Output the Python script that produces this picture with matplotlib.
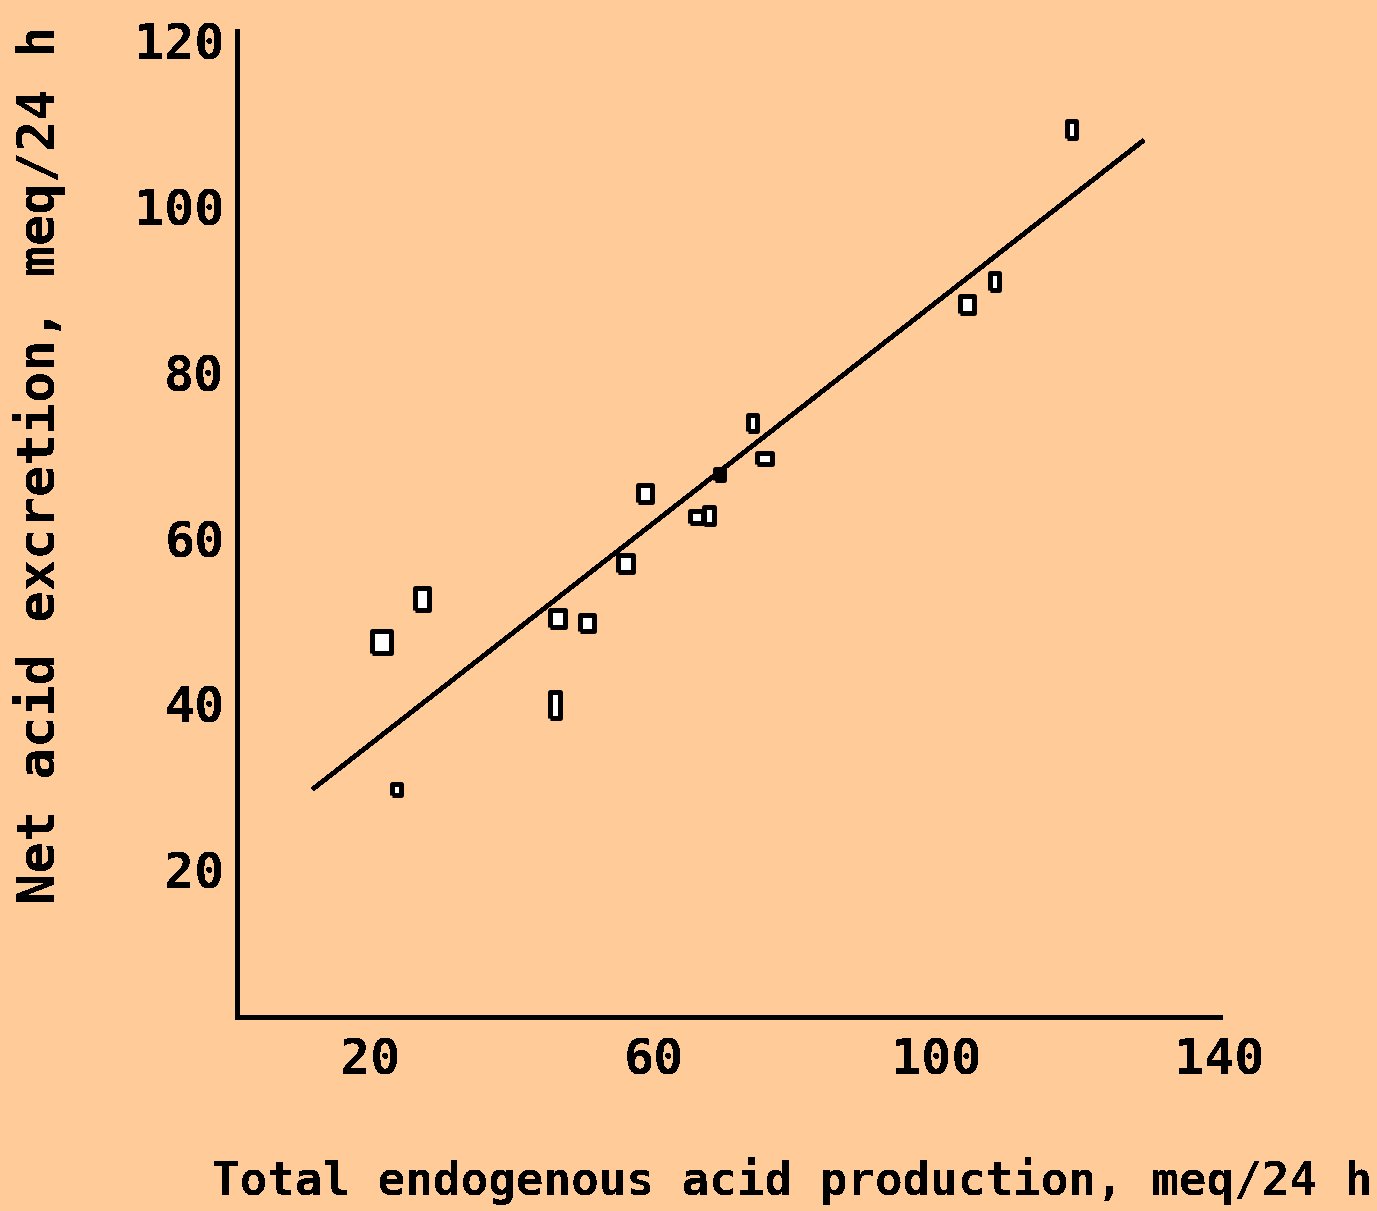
import matplotlib
matplotlib.use("Agg")
import matplotlib.pyplot as plt

# values
acid_production = [21.5, 27.3, 23.5, 46.3, 50.5, 46.0, 55.9, 58.7, 66.0, 67.8,
                   69.2, 73.9, 75.6, 104.3, 108.0, 118.9]
acid_excretion = [47.5, 52.6, 29.7, 50.4, 49.7, 39.9, 57.0, 65.4, 62.5, 62.8,
                  67.7, 73.9, 69.7, 88.3, 91.0, 109.4]
filled = [False, False, False, False, False, False, False, False, False, False,
          True, False, False, False, False, False]

fit_x = [11.8, 129.2]
fit_y = [29.7, 108.0]

x_ticks = [20, 60, 100, 140]
y_ticks = [20, 40, 60, 80, 100, 120]

# marker boxes (outer width, height in pixels), purely style
box_w = [24, 19, 14, 20, 19, 15, 20, 19, 18, 15, 14, 14, 20, 19, 14, 14]
box_h = [27, 28, 16, 22, 21, 32, 22, 22, 17, 22, 16, 21, 16, 22, 22, 22]

bg = "#FFCC99"
plt.rcParams["text.antialiased"] = False
plt.rcParams["font.family"] = ["DejaVu Sans Mono"]
plt.rcParams["font.weight"] = "bold"

fig = plt.figure(figsize=(13.77, 12.11), dpi=100, facecolor=bg)
ax = fig.add_axes([237 / 1377, 194 / 1211, 983 / 1377, 986 / 1211])
ax.set_facecolor(bg)

ax.plot(fit_x, fit_y, color="black", lw=2.6, antialiased=False, zorder=2,
        solid_capstyle="butt")

border = 5
for x, y, w, h, f in zip(acid_production, acid_excretion, box_w, box_h, filled):
    iw, ih = w - border, h - border
    verts = [(-iw / 2, -ih / 2), (iw / 2, -ih / 2), (iw / 2, ih / 2),
             (-iw / 2, ih / 2), (-iw / 2, -ih / 2)]
    ax.plot([x], [y], linestyle="none", marker=verts,
            markersize=max(iw, ih) * 0.72, markeredgewidth=border * 0.72,
            markerfacecolor="black" if f else "white", markeredgecolor="black",
            antialiased=False, zorder=3)

ax.set_xlim(1.1, 139.6)
ax.set_ylim(2.2, 121.2)
ax.set_xticks(x_ticks)
ax.set_yticks(y_ticks)
ax.tick_params(length=0, labelsize=36)
ax.tick_params(axis="x", pad=14)
ax.tick_params(axis="y", pad=9)

for s in ["top", "right"]:
    ax.spines[s].set_visible(False)
for s in ["left", "bottom"]:
    ax.spines[s].set_linewidth(3.6)
    ax.spines[s].set_antialiased(False)

fig.text(792 / 1377, 1 - 1181 / 1211, "Total endogenous acid production, meq/24 h",
         ha="center", va="center", fontsize=33, fontweight="bold")
fig.text(40 / 1377, 1 - 465 / 1211, "Net acid excretion, meq/24 h",
         ha="center", va="center", rotation=90, fontsize=37.5, fontweight="bold")

fig.savefig("out.png", dpi=100, facecolor=bg)
